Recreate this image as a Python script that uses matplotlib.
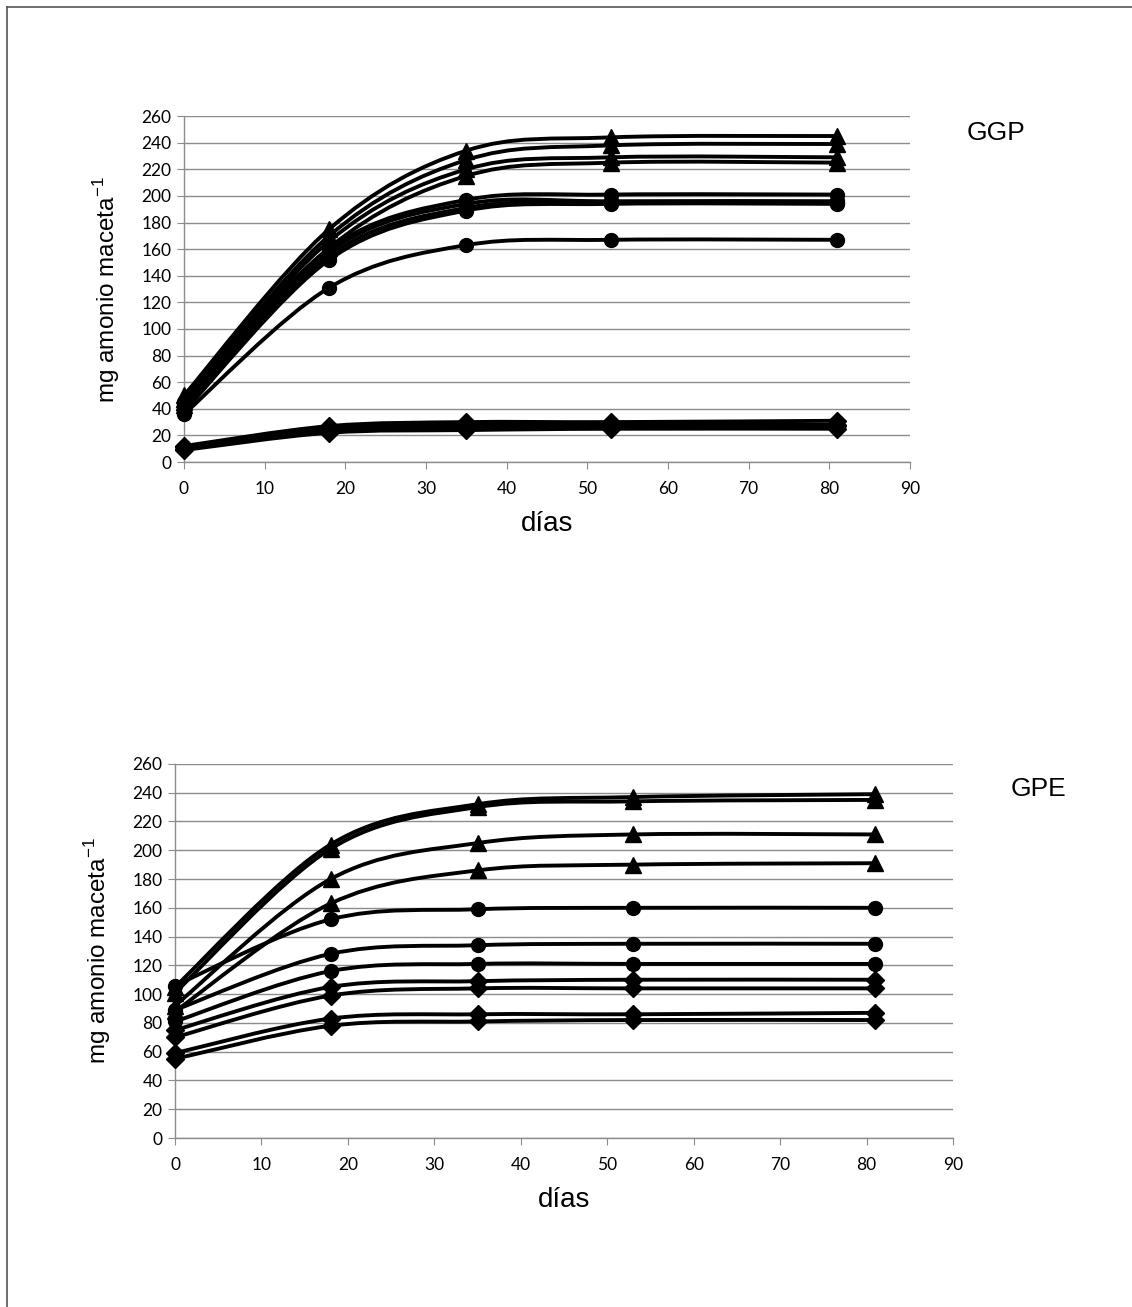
import matplotlib.pyplot as plt
import numpy as np
from matplotlib.path import Path
import matplotlib.patches as mpatches
from matplotlib.lines import Line2D

days = [0, 18, 35, 53, 81]

# GGP (upper panel)
ggp_triangles = [
    [50, 175, 234, 244, 245],
    [47, 170, 227, 238, 239],
    [45, 166, 220, 229, 229],
    [43, 161, 215, 225, 225],
]
ggp_circles = [
    [45, 160, 197, 201, 201],
    [42, 158, 194, 196, 196],
    [40, 155, 191, 195, 195],
    [38, 152, 189, 194, 194],
    [36, 131, 163, 167, 167],
]
ggp_diamonds = [
    [12, 27, 30, 30, 31],
    [11, 26, 28, 28, 28],
    [10, 24, 26, 26, 27],
    [9, 22, 24, 25, 25],
]

# GPE (lower panel)
gpe_triangles = [
    [105, 204, 232, 237, 239],
    [101, 201, 230, 234, 235],
    [92, 180, 205, 211, 211],
    [88, 163, 186, 190, 191],
]
gpe_circles = [
    [106, 152, 159, 160, 160],
    [89, 128, 134, 135, 135],
    [81, 116, 121, 121, 121],
]
gpe_diamonds = [
    [75, 105, 109, 110, 110],
    [70, 99, 104, 104, 104],
    [59, 83, 86, 86, 87],
    [55, 78, 81, 82, 82],
]

yticks = list(range(0, 261, 20))
xticks = list(range(0, 91, 10))


def smooth_path(x, y):
    # Excel-style smoothed line: cubic Bezier through every point
    pts = np.column_stack([x, y]).astype(float)
    n = len(pts)
    verts = [pts[0]]
    codes = [Path.MOVETO]
    for i in range(n - 1):
        p_prev = pts[i - 1] if i > 0 else pts[i]
        p_next2 = pts[i + 2] if i + 2 < n else pts[i + 1]
        c1 = pts[i] + (pts[i + 1] - p_prev) / 6.0
        c2 = pts[i + 1] - (p_next2 - pts[i]) / 6.0
        verts += [c1, c2, pts[i + 1]]
        codes += [Path.CURVE4] * 3
    return Path(verts, codes)


def draw_series(ax, series, marker, ms):
    for s in series:
        patch = mpatches.PathPatch(smooth_path(days, s), facecolor='none',
                                   edgecolor='black', lw=2.8, zorder=3,
                                   clip_on=False)
        ax.add_patch(patch)
        ax.plot(days, s, linestyle='none', marker=marker, markersize=ms,
                color='black', zorder=4, clip_on=False)


def style_axes(ax, label, label_pos):
    ax.set_xlim(0, 90)
    ax.set_ylim(0, 260)
    ax.set_xticks(xticks)
    ax.set_yticks(yticks)
    ax.grid(axis='y', color='#8c8c8c', lw=1.0)
    ax.set_axisbelow(True)
    for side in ['top', 'right']:
        ax.spines[side].set_visible(False)
    for side in ['left', 'bottom']:
        ax.spines[side].set_color('#8c8c8c')
        ax.spines[side].set_linewidth(1.0)
    ax.tick_params(axis='both', direction='out', length=5, color='#8c8c8c',
                   labelsize=12.5)
    ax.tick_params(axis='x', pad=9)
    ax.tick_params(axis='y', pad=4)
    for lab in ax.get_xticklabels() + ax.get_yticklabels():
        lab.set_family('Lato')
    ax.set_xlabel('días', fontsize=20, family='Liberation Sans', labelpad=10)
    ax.set_ylabel('mg amonio maceta$^{\\mathregular{-1}}$', fontsize=17.5,
                  family='Liberation Sans', labelpad=14)
    ax.text(label_pos[0], label_pos[1], label, transform=ax.transAxes,
            fontsize=19, family='Liberation Sans', va='center', ha='left')


fig = plt.figure(figsize=(11.32, 13.07), dpi=100)

ax1 = fig.add_axes([0.1625, 0.6465, 0.6413, 0.2647])
draw_series(ax1, ggp_diamonds, 'D', 9)
draw_series(ax1, ggp_circles, 'o', 10)
draw_series(ax1, ggp_triangles, '^', 12)
style_axes(ax1, 'GGP', (1.078, 0.95))

ax2 = fig.add_axes([0.1546, 0.1293, 0.6873, 0.2862])
draw_series(ax2, gpe_diamonds, 'D', 9)
draw_series(ax2, gpe_circles, 'o', 10)
draw_series(ax2, gpe_triangles, '^', 12)
style_axes(ax2, 'GPE', (1.074, 0.933))

# page frame (left and top edges)
fig.add_artist(Line2D([0.0062, 0.0062], [0.0, 0.9946], color='#555555', lw=1.2,
                      transform=fig.transFigure))
fig.add_artist(Line2D([0.0062, 1.0], [0.9946, 0.9946], color='#555555', lw=1.2,
                      transform=fig.transFigure))

fig.savefig('out.png', dpi=100)
